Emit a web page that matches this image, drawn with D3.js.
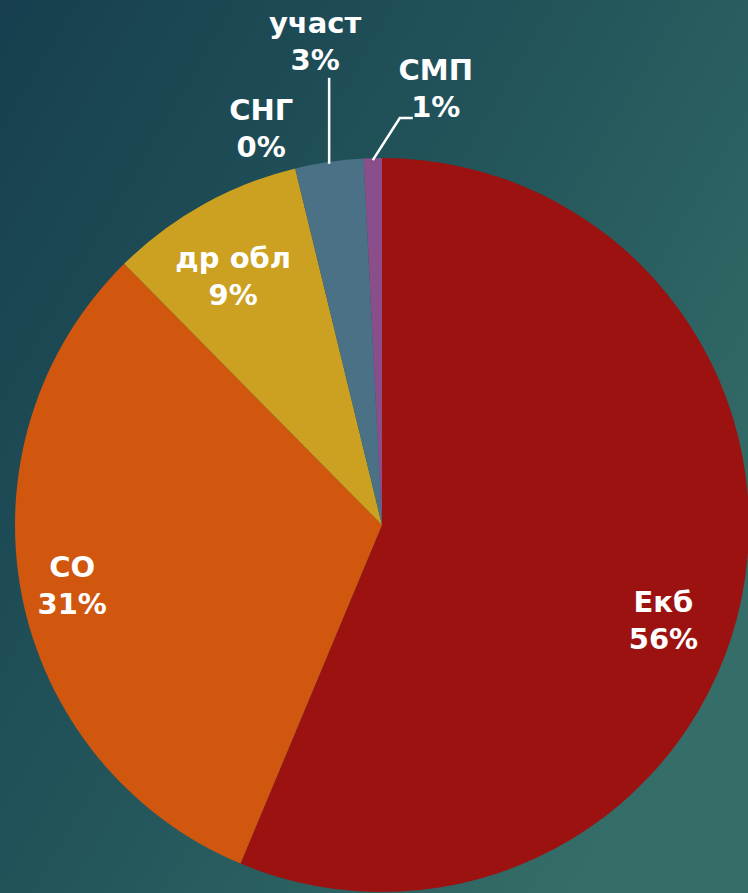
<!DOCTYPE html>
<html>
<head>
<meta charset="utf-8">
<script src="https://cdn.jsdelivr.net/npm/d3@7"></script>
<style>
  html, body { margin:0; padding:0; background:#1d4a55; }
  svg { display:block; }
  text { font-family:"DejaVu Sans", sans-serif; font-weight:bold; fill:#fff; }
</style>
</head>
<body>
<svg id="chart" width="748" height="893"></svg>
<script>
// data
const categories = ["Екб", "СО", "др обл", "СНГ", "участ", "СМП"];
const values = [56.3, 31.3, 8.6, 0, 3.0, 0.8];
const percentLabels = ["56%", "31%", "9%", "0%", "3%", "1%"];
const colors = ["#9b1210", "#d1570f", "#cca020", "#5a7d8c", "#4a7185", "#8a4f8a"];

const W = 748, H = 893, cx = 382, cy = 525, R = 367;
const svg = d3.select("#chart");

const defs = svg.append("defs");
const grad = defs.append("linearGradient").attr("id", "bg").attr("x1", 0).attr("y1", 0).attr("x2", 1).attr("y2", 0.7);
grad.append("stop").attr("offset", 0).attr("stop-color", "#173f4f");
grad.append("stop").attr("offset", 0.5).attr("stop-color", "#22545a");
grad.append("stop").attr("offset", 1).attr("stop-color", "#356e68");
svg.append("rect").attr("width", W).attr("height", H).attr("fill", "url(#bg)");

const rows = categories.map((c, i) => ({name:c, value:values[i], pct:percentLabels[i], color:colors[i]}));
const pie = d3.pie().value(d => d.value).sort(null);
const arcs = pie(rows);
const arc = d3.arc().innerRadius(0).outerRadius(R);

const g = svg.append("g").attr("transform", `translate(${cx},${cy})`);
g.selectAll("path.slice").data(arcs.filter(d => d.value > 0)).join("path").attr("class", "slice")
  .attr("d", arc).attr("fill", d => d.data.color);

// labels: inside ones sit on a ring, small slices get outside labels
const FS = 29, LH = 37;
const mid = d => (d.startAngle + d.endAngle)/2;
const polar = (a, r) => [r*Math.sin(a), -r*Math.cos(a)];
const inside = {"Екб":{r:0.81, da:0.13}, "СО":{r:0.86, da:0}, "др обл":{r:0.79, da:-0.03}};
// outside: offset of label centre from the slice's outer point, plus leader style
const outside = {"СНГ":{dx:-34, dy:-40, lead:null}, "участ":{dx:-14, dy:-120, lead:"v"}, "СМП":{dx:63, dy:-70, lead:"elbow"}};

const labelPos = d => {
  const n = d.data.name;
  if (inside[n]) return polar(mid(d)+inside[n].da, R*inside[n].r);
  const [x, y] = polar(mid(d), R);
  return [x+outside[n].dx, y+outside[n].dy];
};

const lg = g.selectAll("g.lbl").data(arcs).join("g").attr("class", "lbl")
  .attr("transform", d => `translate(${labelPos(d)})`);
lg.append("text").attr("text-anchor", "middle").attr("font-size", FS).attr("y", -LH/2+10).text(d => d.data.name);
lg.append("text").attr("text-anchor", "middle").attr("font-size", FS).attr("y", LH/2+10).text(d => d.data.pct);

// leader lines
const leaders = arcs.filter(d => outside[d.data.name] && outside[d.data.name].lead);
g.selectAll("path.leader").data(leaders).join("path").attr("class", "leader")
  .attr("fill", "none").attr("stroke", "#fff").attr("stroke-width", 2.5)
  .attr("d", d => {
    const o = outside[d.data.name];
    const [x, y] = polar(mid(d), R);
    if (o.lead === "v") return d3.line()([[x, y+2], [x, y+o.dy+36]]);
    return d3.line()([[x, y+2], [x+27, y-40], [x+40, y-40]]);
  });
</script>
</body>
</html>
